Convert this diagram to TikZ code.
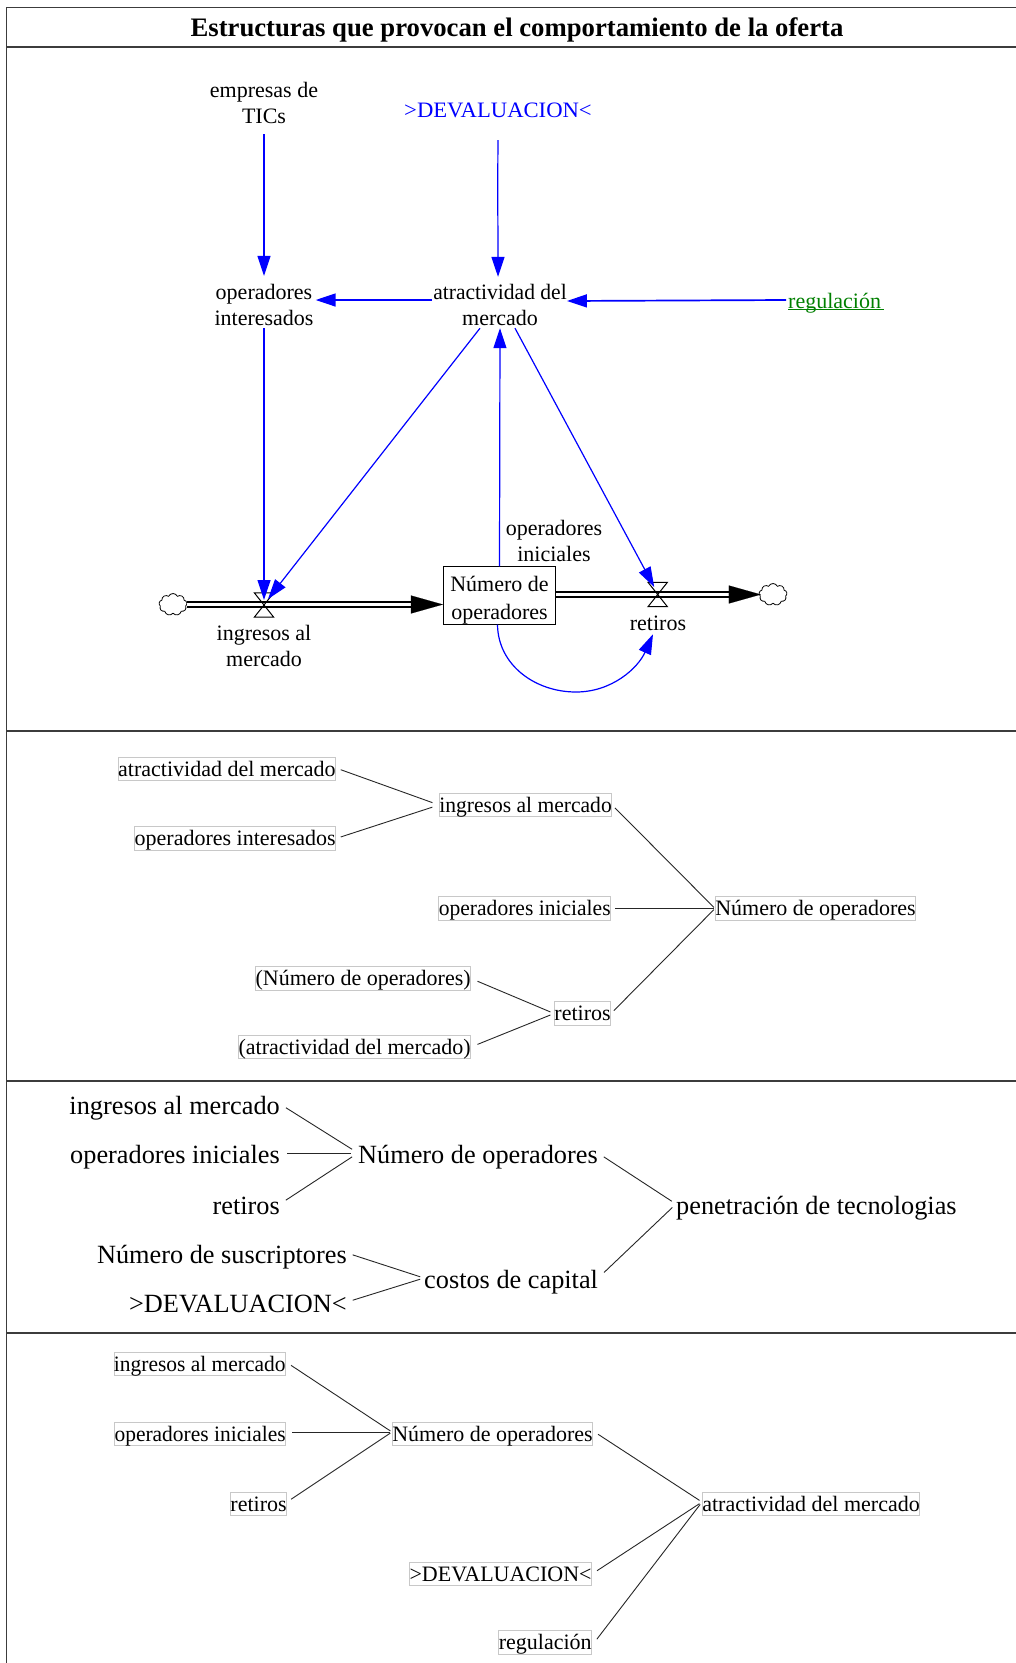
\documentclass[tikz,border=0pt]{standalone}
\usepackage{fontspec}
\usepackage{graphicx}
\setmainfont{Liberation Serif}
\usetikzlibrary{arrows.meta,shapes.symbols}
\definecolor{vblue}{RGB}{0,0,255}
\definecolor{vgreen}{RGB}{0,128,0}
\definecolor{framec}{RGB}{60,60,60}
\definecolor{boxc}{RGB}{200,200,200}
\newcommand{\narrowtxt}[1]{\scalebox{0.98}[1]{#1}}
\tikzset{
  vtext/.style={font=\fontsize{22}{26}\selectfont,align=center,inner sep=0pt,minimum height=46pt},
  ca/.style={draw=vblue,line width=1.2pt,-{Triangle[length=20pt,width=13pt,fill=vblue]}},
  cah/.style={ca,line width=1.7pt},
  tbox/.style={draw=boxc,line width=0.7pt,font=\fontsize{22}{26}\selectfont,inner sep=0pt,minimum height=23.5pt,text height=17pt,text depth=3pt},
  bigt/.style={font=\fontsize{26.3}{30}\selectfont,inner sep=0pt,minimum height=28pt,text height=22pt,text depth=2pt},
  tl/.style={draw=black!85,line width=0.9pt},
  pipe/.style={draw=black,line width=1.5pt,double=white,double distance=3.6pt},
  fhead/.style={draw=black,line width=0.1pt,-{Triangle[length=32pt,width=18pt,fill=black]}},
  frameline/.style={draw=framec,line width=1.1pt},
  cloudy/.style={shape=cloud,cloud puffs=9,cloud puff arc=130,aspect=1.25,draw=black,line width=0.8pt,inner sep=0pt,minimum width=28pt,minimum height=22pt},
  valvebox/.style={inner sep=0pt,minimum width=19pt,minimum height=24pt},
  vline/.style={draw=black,line width=1pt}
}
\begin{document}
\begin{tikzpicture}[x=1pt,y=-1pt]
\useasboundingbox (0,0) rectangle (1016,1663);
\fill[white] (0,0) rectangle (1016,1663);
% frame
\draw[frameline] (1016,7.5) -- (6.5,7.5) -- (6.5,1663);
\draw[frameline] (6.5,47) -- (1016,47);
\draw[frameline] (6.5,731) -- (1016,731);
\draw[frameline] (6.5,1081) -- (1016,1081);
\draw[frameline] (6.5,1333) -- (1016,1333);
\node[inner sep=0pt,font=\fontsize{26.7}{30}\selectfont\bfseries] (title) at (517,30) {Estructuras que provocan el comportamiento de la oferta};
% stock and flow
\node[vtext] (emp) at (264,103) {empresas de\\TICs};
\node[vtext,text=vblue,minimum height=24pt] (dev) at (498,110) {\scalebox{1.03}[1]{>DEVALUACION<}};
\node[vtext] (op) at (264,305) {operadores\\interesados};
\node[vtext] (atr) at (500,305) {\narrowtxt{atractividad del}\\mercado};
\node[font=\fontsize{22}{26}\selectfont,text=vgreen,inner sep=0pt,anchor=west,minimum height=24pt] (reg) at (788,309) {\underline{\smash{regulación}\hspace*{3pt}}};
\node[draw=black,line width=1.1pt,font=\fontsize{22}{27.5}\selectfont,align=center,inner sep=0pt,minimum width=112pt,minimum height=55pt] (num) at (499.5,595.5) {\rule{0pt}{25pt}Número de\\operadores};
\node[vtext] (ini) at (554,541) {operadores\\iniciales};
\node[vtext] (ing) at (264,645.5) {ingresos al\\mercado};
\node[vtext,minimum height=22pt] (ret) at (658,623) {retiros};
\node[cloudy] (c1) at (173,604.5) {};
\node[cloudy] (c2) at (773,594.5) {};
\node[valvebox] (vi) at (264,605) {};
\node[valvebox] (vo) at (657.7,594.5) {};
% pipes
\draw[pipe] (c1.east |- 0,604.5) -- ([xshift=-30pt]num.west |- 0,604.5);
\draw[fhead] ([xshift=-32pt]num.west |- 0,604.5) -- (num.west |- 0,604.5);
\draw[pipe] (num.east |- 0,594.5) -- ([xshift=-28pt]c2.west |- 0,594.5);
\draw[fhead] ([xshift=-30pt]c2.west |- 0,594.5) -- ([xshift=2pt]c2.west |- 0,594.5);
\draw[vline] (vi.north west) -- (vi.south east) -- (vi.south west) -- (vi.north east) -- cycle;
\draw[vline] (vo.north west) -- (vo.south east) -- (vo.south west) -- (vo.north east) -- cycle;
% blue links
\draw[ca,shorten <=8pt,shorten >=6pt] (emp.south) -- (op.north);
\draw[ca,shorten >=5pt] ([yshift=-18pt]dev.south) .. controls +(-0.5pt,-60pt) and +(0pt,60pt) .. ([xshift=-2pt]atr.north);
\draw[cah] ([shift={(-1pt,5pt)}]atr.west) -- ([shift={(2pt,5pt)}]op.east);
\draw[cah] ([shift={(-2pt,9pt)}]reg.west) -- ([shift={(0pt,4pt)}]atr.east);
\draw[ca] (op.south) -- ([yshift=5pt]vi.center);
\draw[ca] ([xshift=-20pt]atr.south) -- ([shift={(4pt,6pt)}]vi.center);
\draw[ca] (num.north) -- (atr.south);
\draw[ca] ([xshift=15pt]atr.south) -- ([shift={(-3.5pt,7.5pt)}]vo.center);
\draw[ca] ([xshift=-2pt]num.south) .. controls (498,665) and (535,692) .. (576,692) .. controls (612,692) and (638,668) .. ([shift={(-5pt,0pt)}]ret.south);
% tree 1
\node[tbox,anchor=east] (a1) at (336,769) {atractividad del mercado};
\node[tbox,anchor=east] (a2) at (336,838.5) {operadores interesados};
\node[tbox,anchor=west] (a3) at (439,805) {\narrowtxt{ingresos al mercado}};
\node[tbox,anchor=east] (a4) at (611,908.5) {\narrowtxt{operadores iniciales}};
\node[tbox,anchor=west] (a5) at (715,908.5) {Número de operadores};
\node[tbox,anchor=east] (a6) at (471,978.5) {(Número de operadores)};
\node[tbox,anchor=east] (a7) at (611,1013.5) {retiros};
\node[tbox,anchor=east] (a8) at (471,1047) {(atractividad del mercado)};
\draw[tl,shorten <=5pt,shorten >=7pt] ([yshift=1pt]a1.east) -- (a3.west);
\draw[tl,shorten <=5pt,shorten >=7pt] (a2.east) -- (a3.west);
\draw[tl,shorten <=4pt,shorten >=1.5pt] (a3.east) -- (a5.west);
\draw[tl,shorten <=4pt,shorten >=1.5pt] (a4.east) -- (a5.west);
\draw[tl,shorten <=4pt,shorten >=1.5pt] (a7.east) -- (a5.west);
\draw[tl,shorten <=7pt,shorten >=4pt] (a6.east) -- (a7.west);
\draw[tl,shorten <=7pt,shorten >=4pt] (a8.east) -- (a7.west);
% tree 2
\node[bigt,anchor=east] (b1) at (280,1104) {ingresos al mercado};
\node[bigt,anchor=east] (b2) at (280,1153) {operadores iniciales};
\node[bigt,anchor=east] (b3) at (280,1204) {retiros};
\node[bigt,anchor=east] (b4) at (347,1253) {Número de suscriptores};
\node[bigt,anchor=east] (b5) at (347,1302) {>DEVALUACION<};
\node[bigt,anchor=west] (b6) at (358,1153) {Número de operadores};
\node[bigt,anchor=west] (b7) at (424,1278) {costos de capital};
\node[bigt,anchor=west] (b8) at (676,1204) {penetración de tecnologias};
\draw[tl,shorten <=7pt,shorten >=7pt] (b1.east) -- (b6.west);
\draw[tl,shorten <=7pt,shorten >=7pt] (b2.east) -- (b6.west);
\draw[tl,shorten <=7pt,shorten >=7pt] (b3.east) -- (b6.west);
\draw[tl,shorten <=6pt,shorten >=4pt] (b4.east) -- (b7.west);
\draw[tl,shorten <=6pt,shorten >=4pt] (b5.east) -- (b7.west);
\draw[tl,shorten <=7pt,shorten >=5pt] (b6.east) -- (b8.west);
\draw[tl,shorten <=8pt,shorten >=5pt] (b7.east) -- (b8.west);
% tree 3
\node[tbox,anchor=east] (d1) at (286,1364) {\scalebox{0.976}[1]{ingresos al mercado}};
\node[tbox,anchor=east] (d2) at (286,1434) {\scalebox{0.976}[1]{operadores iniciales}};
\node[tbox,anchor=east] (d3) at (287,1504) {retiros};
\node[tbox,anchor=west] (d4) at (392,1434) {Número de operadores};
\node[tbox,anchor=west] (d5) at (702,1504) {atractividad del mercado};
\node[tbox,anchor=east] (d6) at (592,1574) {>DEVALUACION<};
\node[tbox,anchor=east] (d7) at (592,1642.5) {regulación};
\draw[tl,shorten <=6pt,shorten >=2pt] ([yshift=2pt]d1.east) -- ([yshift=2pt]d4.west);
\draw[tl,shorten <=6pt,shorten >=2pt] ([yshift=2pt]d2.east) -- ([yshift=2pt]d4.west);
\draw[tl,shorten <=5pt,shorten >=2pt] ([yshift=2pt]d3.east) -- ([yshift=2pt]d4.west);
\draw[tl,shorten <=6pt,shorten >=3pt] ([yshift=3pt]d4.east) -- ([yshift=2pt]d5.west);
\draw[tl,shorten <=6pt,shorten >=3pt] (d6.east) -- ([yshift=2pt]d5.west);
\draw[tl,shorten <=8pt,shorten >=3pt] ([yshift=-3pt]d7.east) -- ([yshift=2pt]d5.west);
\end{tikzpicture}
\end{document}
